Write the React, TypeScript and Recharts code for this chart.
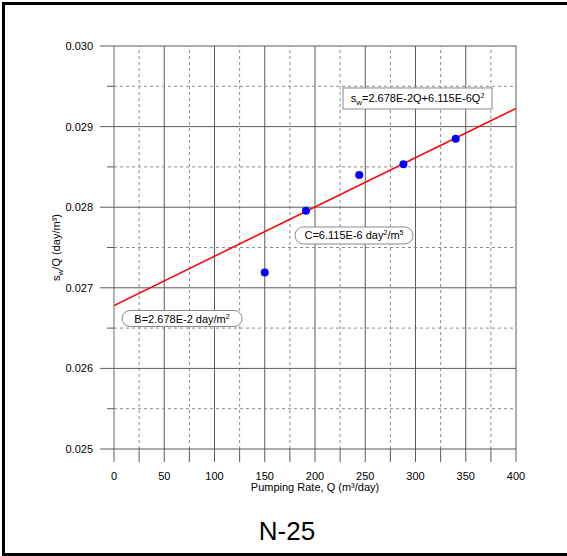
import React from "react";
import {
  ComposedChart,
  XAxis,
  YAxis,
  Scatter,
  Line,
  ReferenceLine,
  ReferenceDot,
} from "recharts";

const FONT = "'Liberation Sans', Arial, Helvetica, sans-serif";

// Measured data points: pumping rate Q (m3/day) and sw/Q (day/m2)
const pumpingRates = [150, 191, 244, 288, 340];
const swOverQ = [0.02719, 0.027955, 0.0284, 0.028532, 0.02885];

// Fitted line sw/Q = B + C*Q, endpoints at Q = 0 and Q = 400
const fitRates = [0, 400];
const fitValues = [0.02678, 0.029226];

// Axis ticks (major + minor)
const xTicks = [0, 25, 50, 75, 100, 125, 150, 175, 200, 225, 250, 275, 300, 325, 350, 375, 400];
const xMajor = [0, 50, 100, 150, 200, 250, 300, 350, 400];
const yTicks = [0.025, 0.0255, 0.026, 0.0265, 0.027, 0.0275, 0.028, 0.0285, 0.029, 0.0295, 0.03];
const yMajor = [0.025, 0.026, 0.027, 0.028, 0.029, 0.03];

// Annotation anchors (data coordinates)
const eqAnchor = { q: 302, v: 0.029349 };
const cAnchor = { q: 238.8, v: 0.027649 };
const bAnchor = { q: 67.7, v: 0.026619 };

const points = pumpingRates.map((q, i) => ({ q, v: swOverQ[i] }));
const fitLine = fitRates.map((q, i) => ({ q, v: fitValues[i] }));

const isXMajor = (v: number) => xMajor.includes(v);
const isYMajor = (v: number) => yMajor.some((m) => Math.abs(m - v) < 1e-9);

const MAJOR = "#5a5a5a";
const MINOR = "#8c8c8c";

const XTick = (props: any) => {
  const { x, y, payload } = props;
  const v = payload.value;
  const major = isXMajor(v);
  return (
    <g>
      <line x1={x} x2={x} y1={y} y2={y + 13} stroke={MAJOR} strokeWidth={1} />
      {major && (
        <text x={x} y={y + 30.5} textAnchor="middle" fontSize={11} fontFamily={FONT} fill="#000">
          {v}
        </text>
      )}
    </g>
  );
};

const YTick = (props: any) => {
  const { x, y, payload } = props;
  const v = payload.value;
  const major = isYMajor(v);
  return (
    <g>
      <line x1={x - (major ? 14 : 7)} x2={x} y1={y} y2={y} stroke={MAJOR} strokeWidth={1} />
      {major && (
        <text x={x - 21} y={y + 4} textAnchor="end" fontSize={11} fontFamily={FONT} fill="#000">
          {v.toFixed(3)}
        </text>
      )}
    </g>
  );
};

const EqBox = (p: any) => {
  const { cx, cy } = p;
  const w = 149;
  const h = 21;
  return (
    <g>
      <rect x={cx - w / 2} y={cy - h / 2} width={w} height={h} fill="#fff" stroke="#888" strokeWidth={1} />
      <text x={cx} y={cy + 4} textAnchor="middle" fontSize={11} fontFamily={FONT} fill="#000">
        <tspan>s</tspan>
        <tspan fontSize={8} dy={3}>w</tspan>
        <tspan dy={-3}>=2.678E-2Q+6.115E-6Q</tspan>
        <tspan fontSize={7} dy={-4}>2</tspan>
      </text>
    </g>
  );
};

const CBox = (p: any) => {
  const { cx, cy } = p;
  const w = 118;
  const h = 17;
  return (
    <g>
      <rect x={cx - w / 2} y={cy - h / 2} width={w} height={h} rx={8.5} ry={8.5} fill="#fff" stroke="#888" strokeWidth={1} />
      <text x={cx} y={cy + 4} textAnchor="middle" fontSize={11} fontFamily={FONT} fill="#000">
        <tspan>C=6.115E-6 day</tspan>
        <tspan fontSize={7} dy={-4}>2</tspan>
        <tspan dy={4}>/m</tspan>
        <tspan fontSize={7} dy={-4}>5</tspan>
      </text>
    </g>
  );
};

const BBox = (p: any) => {
  const { cx, cy } = p;
  const w = 120;
  const h = 16;
  return (
    <g>
      <rect x={cx - w / 2} y={cy - h / 2} width={w} height={h} rx={8} ry={8} fill="#fff" stroke="#888" strokeWidth={1} />
      <text x={cx} y={cy + 4} textAnchor="middle" fontSize={11} fontFamily={FONT} fill="#000">
        <tspan>B=2.678E-2 day/m</tspan>
        <tspan fontSize={7} dy={-4}>2</tspan>
      </text>
    </g>
  );
};

const XLabel = (props: any) => {
  const vb = props.viewBox || {};
  const cx = vb.x + vb.width / 2;
  return (
    <text x={cx} y={vb.y + 42} textAnchor="middle" fontSize={11} fontFamily={FONT} fill="#000">
      Pumping Rate, Q (m³/day)
    </text>
  );
};

const YLabel = (props: any) => {
  const vb = props.viewBox || {};
  const cy = vb.y + vb.height / 2;
  const x = 60;
  return (
    <text
      x={x}
      y={cy}
      transform={`rotate(-90 ${x} ${cy})`}
      textAnchor="middle"
      fontSize={11}
      fontFamily={FONT}
      fill="#000"
    >
      <tspan>s</tspan>
      <tspan fontSize={8} dy={3}>w</tspan>
      <tspan dy={-3}>/Q (day/m³)</tspan>
    </text>
  );
};

const Dot = (p: any) => <circle cx={p.cx} cy={p.cy} r={4} fill="#0000ff" />;

export default function App() {
  return (
    <div style={{ position: "absolute", left: 0, top: 0, width: 567, height: 556, overflow: "hidden", background: "#fff" }}>
      <div
        style={{
          position: "absolute",
          left: 2,
          top: 2,
          width: 600,
          height: 554,
          boxSizing: "border-box",
          border: "3px solid #000",
        }}
      />
      <div style={{ position: "absolute", left: 0, top: 0 }}>
        <ComposedChart
          width={567}
          height={556}
          margin={{ top: 46, right: 51, bottom: 77, left: 54 }}
        >
          <XAxis
            type="number"
            dataKey="q"
            domain={[0, 400]}
            ticks={xTicks}
            interval={0}
            allowDataOverflow
            axisLine={false}
            tickLine={false}
            tickSize={0}
            tickMargin={0}
            height={30}
            tick={<XTick />}
            label={<XLabel />}
          />
          <YAxis
            type="number"
            dataKey="v"
            domain={[0.025, 0.03]}
            ticks={yTicks}
            interval={0}
            allowDataOverflow
            axisLine={false}
            tickLine={false}
            tickSize={0}
            tickMargin={0}
            width={60}
            tick={<YTick />}
            label={<YLabel />}
          />
          {xTicks.map((t) => (
            <ReferenceLine
              key={"x" + t}
              x={t}
              stroke={t === 0 ? "#b4b4b4" : isXMajor(t) ? MAJOR : MINOR}
              strokeWidth={t === 0 ? 2 : 1}
              strokeDasharray={isXMajor(t) ? undefined : "3 3"}
            />
          ))}
          {yTicks.map((t) => (
            <ReferenceLine
              key={"y" + t}
              y={t}
              stroke={isYMajor(t) ? MAJOR : MINOR}
              strokeWidth={1}
              strokeDasharray={isYMajor(t) ? undefined : "3 3"}
            />
          ))}
          <Line
            data={fitLine}
            dataKey="v"
            type="linear"
            stroke="#ff0000"
            strokeWidth={1.5}
            dot={false}
            activeDot={false}
            isAnimationActive={false}
          />
          <Scatter data={points} dataKey="v" shape={<Dot />} isAnimationActive={false} />
          <ReferenceDot x={eqAnchor.q} y={eqAnchor.v} r={0} shape={<EqBox />} />
          <ReferenceDot x={cAnchor.q} y={cAnchor.v} r={0} shape={<CBox />} />
          <ReferenceDot x={bAnchor.q} y={bAnchor.v} r={0} shape={<BBox />} />
        </ComposedChart>
      </div>
      <div
        style={{
          position: "absolute",
          left: 0,
          top: 518,
          width: 574,
          textAlign: "center",
          fontFamily: FONT,
          fontSize: 26,
          lineHeight: "26px",
          color: "#000",
        }}
      >
        N-25
      </div>
    </div>
  );
}
